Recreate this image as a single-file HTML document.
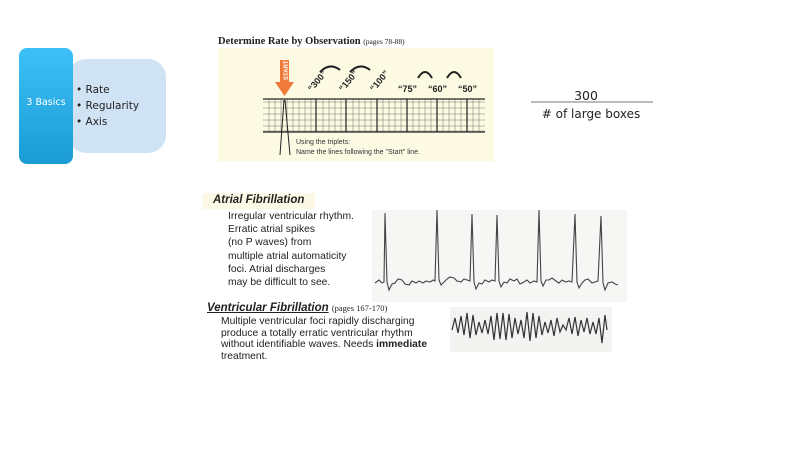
<!DOCTYPE html>
<html><head><meta charset="utf-8"><style>
body{margin:0;width:810px;height:455px;background:#fff;position:relative;overflow:hidden;font-family:"Liberation Sans",sans-serif}
.a{position:absolute}
.cent{font-family:"DejaVu Sans","Liberation Sans",sans-serif}
</style></head><body>
<div class="a" style="left:68px;top:59px;width:98px;height:94px;background:#cfe3f5;border-radius:18px"></div>
<div class="a" style="left:19px;top:48px;width:54px;height:116px;background:linear-gradient(#3dc0f7,#1b9bd3);border-radius:8px"></div>
<div class="a cent" style="left:19px;top:97px;width:54px;text-align:center;color:#fff;font-size:9.5px">3 Basics</div>
<div class="a cent" style="left:76px;top:82px;font-size:10.5px;line-height:16px;color:#222">• Rate<br>• Regularity<br>• Axis</div>

<div class="a" style="left:218px;top:36px;font-family:'Liberation Serif',serif;font-weight:bold;font-size:10.5px;color:#222">Determine Rate by Observation <span style="font-weight:normal;font-size:7.5px">(pages 78-88)</span></div>
<div class="a" style="left:218px;top:48px;width:276px;height:113px;background:#fcfae2"></div>
<svg class="a" style="left:0;top:0" width="810" height="455">
<g stroke="#555" stroke-width="0.4" fill="none">
<path d="M263 102H485M263 108H485M263 114H485M263 120H485M263 126H485M263 131H485"/>
<path d="M269 99V132M275 99V132M281 99V132M287 99V132M293 99V132M299 99V132M305 99V132M311 99V132M323 99V132M329 99V132M335 99V132M341 99V132M353 99V132M359 99V132M365 99V132M371 99V132M383 99V132M389 99V132M395 99V132M401 99V132M413 99V132M419 99V132M425 99V132M431 99V132M443 99V132M449 99V132M455 99V132M461 99V132M473 99V132M479 99V132"/>
</g>
<g stroke="#222" stroke-width="1.2">
<path d="M263 99H485M263 132H485"/>
<path d="M316 99V132M346 99V132M377 99V132M407 99V132M437 99V132M467 99V132"/>
</g>
<path d="M284 100L280 155M285 100L290 155" stroke="#222" stroke-width="1" fill="none"/>
<path d="M280 60h9v22h5l-9.5 14l-9.5-14h5z" fill="#ef7a3a"/>
<text x="288" y="80" transform="rotate(-90 288 80)" font-size="6" fill="#fff" font-weight="bold">START</text>
<g font-size="9" font-weight="bold" fill="#222">
<text x="312" y="92" transform="rotate(-50 312 92)">“300”</text>
<text x="343" y="92" transform="rotate(-50 343 92)">“150”</text>
<text x="374" y="92" transform="rotate(-50 374 92)">“100”</text>
<text x="398" y="92">“75”</text>
<text x="428" y="92">“60”</text>
<text x="458" y="92">“50”</text>
</g>
<g stroke="#222" stroke-width="2" fill="none">
<path d="M320 72Q330 62 340 70M350 72Q360 62 370 70M418 78Q425 66 432 78M447 78Q454 66 461 78"/>
</g>
<text x="296" y="144" font-size="7" fill="#333">Using the triplets:</text>
<text x="296" y="154" font-size="7" fill="#333">Name the lines following the "Start" line.</text>

<text x="586" y="100" text-anchor="middle" font-size="12.5" fill="#222" font-family="DejaVu Sans">300</text>
<line x1="531" y1="102" x2="653" y2="102" stroke="#777" stroke-width="1"/>
<text x="591" y="118" text-anchor="middle" font-size="12" fill="#222" font-family="DejaVu Sans"># of large boxes</text>

<rect x="203" y="193" width="112" height="16" fill="#fbf8e6"/>
<rect x="372" y="210" width="255" height="92" fill="#f6f6f4"/>
<rect x="450" y="307" width="162" height="45" fill="#f3f3f1"/>
<path fill="none" stroke="#444" stroke-width="1.1" d="M375 283 L379 280 L382 283 L384 282 L385 213 L387 282 L389 290 L392 284 L395 283 L398 279 L402 280 L405 284 L409 285 L412 281 L416 283 L419 281 L423 283 L426 281 L430 282 L433 280 L435 281 L437 210 L439 280 L441 285 L444 282 L447 279 L450 277 L454 278 L457 281 L461 282 L464 279 L467 280 L470 281 L472 214 L474 282 L476 289 L479 283 L482 284 L485 280 L489 282 L492 280 L495 281 L497 215 L499 281 L501 287 L504 282 L507 283 L510 279 L514 281 L517 279 L520 284 L524 282 L527 280 L530 283 L534 281 L537 282 L539 210 L541 281 L543 286 L546 280 L549 280 L552 278 L556 281 L559 283 L562 280 L566 282 L569 281 L572 282 L575 214 L577 282 L579 288 L582 283 L585 280 L588 279 L592 283 L595 282 L598 281 L601 216 L603 283 L605 290 L608 283 L612 282 L615 284 L618 285"/>
<path fill="none" stroke="#333" stroke-width="1.2" d="M452 330 L455 318 L458 333 L461 316 L464 335 L467 313 L470 338 L473 315 L476 335 L479 322 L482 333 L485 320 L488 334 L491 316 L494 340 L497 313 L500 339 L503 313 L506 340 L509 314 L512 338 L515 318 L518 334 L521 320 L524 338 L527 312 L530 341 L533 313 L536 338 L539 316 L542 335 L545 322 L548 333 L551 320 L554 336 L557 318 L560 332 L563 325 L566 330 L569 318 L572 334 L575 317 L578 336 L581 320 L584 332 L587 318 L590 334 L593 322 L596 334 L599 318 L602 343 L605 315 L607 330"/>
</svg>
<div class="a" style="left:213px;top:194px;font-weight:bold;font-style:italic;font-size:11.5px;color:#222">Atrial Fibrillation</div>
<div class="a" style="left:228px;top:210px;font-size:10.3px;line-height:13.2px;color:#222">Irregular ventricular rhythm.<br>Erratic atrial spikes<br>(no P waves) from<br>multiple atrial automaticity<br>foci. Atrial discharges<br>may be difficult to see.</div>
<div class="a" style="left:207px;top:302px;font-size:11.5px;color:#222"><b><i><u>Ventricular Fibrillation</u></i></b> <span style="font-family:'Liberation Serif',serif;font-size:8.5px">(pages 167-170)</span></div>
<div class="a" style="left:221px;top:316px;font-size:10.3px;line-height:11.5px;color:#222">Multiple ventricular foci rapidly discharging<br>produce a totally erratic ventricular rhythm<br>without identifiable waves. Needs <b>immediate</b><br>treatment.</div>
</body></html>
